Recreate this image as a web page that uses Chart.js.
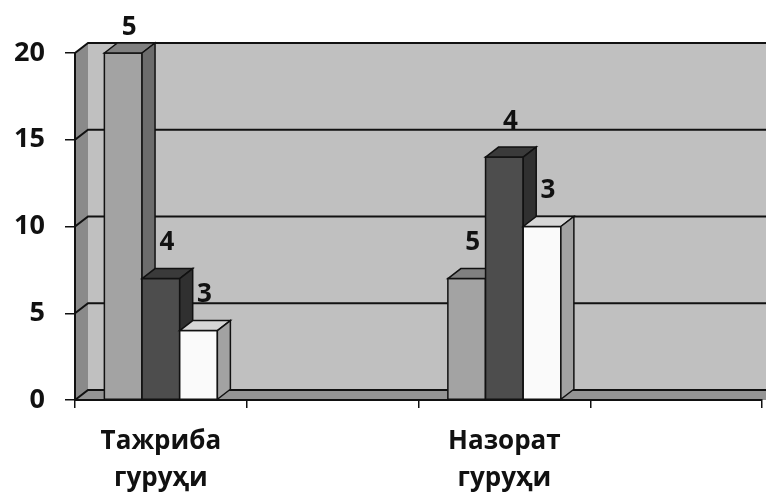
<!DOCTYPE html>
<html><head><meta charset="utf-8">
<script src="https://cdn.jsdelivr.net/npm/chart.js@4"></script>
<style>html,body{margin:0;padding:0;background:#fff}#wrap{width:766px;height:495px}</style>
</head><body><div id="wrap"><canvas id="c" width="766" height="495"></canvas></div>
<script>
// ---- data ----
const categories = [['Тажриба', 'гуруҳи'], '', ['Назорат', 'гуруҳи'], ''];
const seriesNames = ['5', '4', '3'];
const series5 = [20, null, 7, null];
const series4 = [7, null, 14, null];
const series3 = [4, null, 10, null];
const yTicks = [0, 5, 10, 15, 20];

// ---- style ----
const FONT = '"Open Sans", "Noto Sans", sans-serif';
const DX = 13, DY = 10;
const faces = [
  {front: '#a3a3a3', top: '#808080', side: '#6c6c6c'},
  {front: '#4d4d4d', top: '#3a3a3a', side: '#303030'},
  {front: '#fafafa', top: '#d6d6d6', side: '#a2a2a2'}
];

const walls = {
  id: 'walls',
  beforeDraw(chart) {
    const {ctx, chartArea: a, scales: {y}} = chart;
    const W = chart.width;
    const y0 = y.getPixelForValue(y.min), yT = y.getPixelForValue(y.max);
    ctx.save();
    ctx.fillStyle = '#c0c0c0';
    ctx.fillRect(a.left + DX, yT - DY, W - (a.left + DX), y0 - yT);
    ctx.fillStyle = '#8a8a8a';
    ctx.beginPath();
    ctx.moveTo(a.left, y0); ctx.lineTo(a.left, yT); ctx.lineTo(a.left + DX, yT - DY); ctx.lineTo(a.left + DX, y0 - DY);
    ctx.closePath(); ctx.fill();
    ctx.fillStyle = '#949494';
    ctx.beginPath();
    ctx.moveTo(a.left, y0); ctx.lineTo(a.left + DX, y0 - DY); ctx.lineTo(W, y0 - DY); ctx.lineTo(W, y0);
    ctx.closePath(); ctx.fill();
    ctx.strokeStyle = '#111'; ctx.lineWidth = 2;
    yTicks.forEach(v => {
      const yy = y.getPixelForValue(v);
      ctx.beginPath();
      ctx.moveTo(a.left, yy); ctx.lineTo(a.left + DX, yy - DY); ctx.lineTo(W, yy - DY);
      ctx.stroke();
    });
    ctx.restore();
  }
};

const bars3d = {
  id: 'bars3d',
  afterDatasetsDraw(chart) {
    const ctx = chart.ctx;
    const n = chart.data.labels.length;
    ctx.save();
    ctx.lineWidth = 1.5; ctx.strokeStyle = '#111'; ctx.lineJoin = 'miter';
    const labelsToDraw = [];
    for (let i = 0; i < n; i++) {
      chart.data.datasets.forEach((ds, d) => {
        const v = ds.data[i];
        if (v === null || v === undefined) return;
        const el = chart.getDatasetMeta(d).data[i];
        const p = el.getProps(['x', 'y', 'base', 'width'], true);
        const x0 = p.x - p.width / 2, x1 = p.x + p.width / 2, t = p.y, b = p.base;
        const f = faces[d];
        ctx.fillStyle = f.front;
        ctx.beginPath(); ctx.rect(x0, t, x1 - x0, b - t); ctx.fill(); ctx.stroke();
        ctx.fillStyle = f.top;
        ctx.beginPath();
        ctx.moveTo(x0, t); ctx.lineTo(x0 + DX, t - DY); ctx.lineTo(x1 + DX, t - DY); ctx.lineTo(x1, t);
        ctx.closePath(); ctx.fill(); ctx.stroke();
        ctx.fillStyle = f.side;
        ctx.beginPath();
        ctx.moveTo(x1, t); ctx.lineTo(x1 + DX, t - DY); ctx.lineTo(x1 + DX, b - DY); ctx.lineTo(x1, b);
        ctx.closePath(); ctx.fill(); ctx.stroke();
        labelsToDraw.push({x: p.x + 6, y: Math.max(t - 36, 28), text: ds.label});
      });
    }
    ctx.fillStyle = '#111';
    ctx.font = 'bold 26px ' + FONT;
    ctx.textAlign = 'center'; ctx.textBaseline = 'middle';
    labelsToDraw.forEach(l => ctx.fillText(l.text, l.x, l.y));
    ctx.restore();
  }
};

new Chart(document.getElementById('c'), {
  type: 'bar',
  data: {
    labels: categories,
    datasets: [
      {label: seriesNames[0], data: series5, backgroundColor: faces[0].front},
      {label: seriesNames[1], data: series4, backgroundColor: faces[1].front},
      {label: seriesNames[2], data: series3, backgroundColor: faces[2].front}
    ]
  },
  options: {
    responsive: false,
    animation: false,
    devicePixelRatio: 1,
    layout: {padding: {top: 53, right: 4, left: 0, bottom: 0}},
    categoryPercentage: 0.658,
    barPercentage: 1,
    plugins: {legend: {display: false}, tooltip: {enabled: false}},
    scales: {
      x: {
        offset: true,
        grid: {display: true, drawOnChartArea: false, drawTicks: true, tickLength: 8, color: '#111', lineWidth: 1.5, offset: true},
        border: {display: true, color: '#111', width: 2},
        ticks: {color: '#111', font: {family: FONT, size: 26, weight: 'bold', lineHeight: 1.42}, padding: 15, maxRotation: 0, autoSkip: false},
        afterFit(s) { s.height = 95; }
      },
      y: {
        min: 0, max: 20,
        afterBuildTicks(s) { s.ticks = yTicks.map(v => ({value: v})); },
        grid: {drawOnChartArea: false, drawTicks: true, tickLength: 10, color: '#111', lineWidth: 1.5},
        border: {display: true, color: '#111', width: 2},
        ticks: {color: '#111', font: {family: FONT, size: 27, weight: 'bold'}, padding: 20},
        afterFit(s) { s.width = 75; }
      }
    }
  },
  plugins: [walls, bars3d]
});
</script>
</body></html>
